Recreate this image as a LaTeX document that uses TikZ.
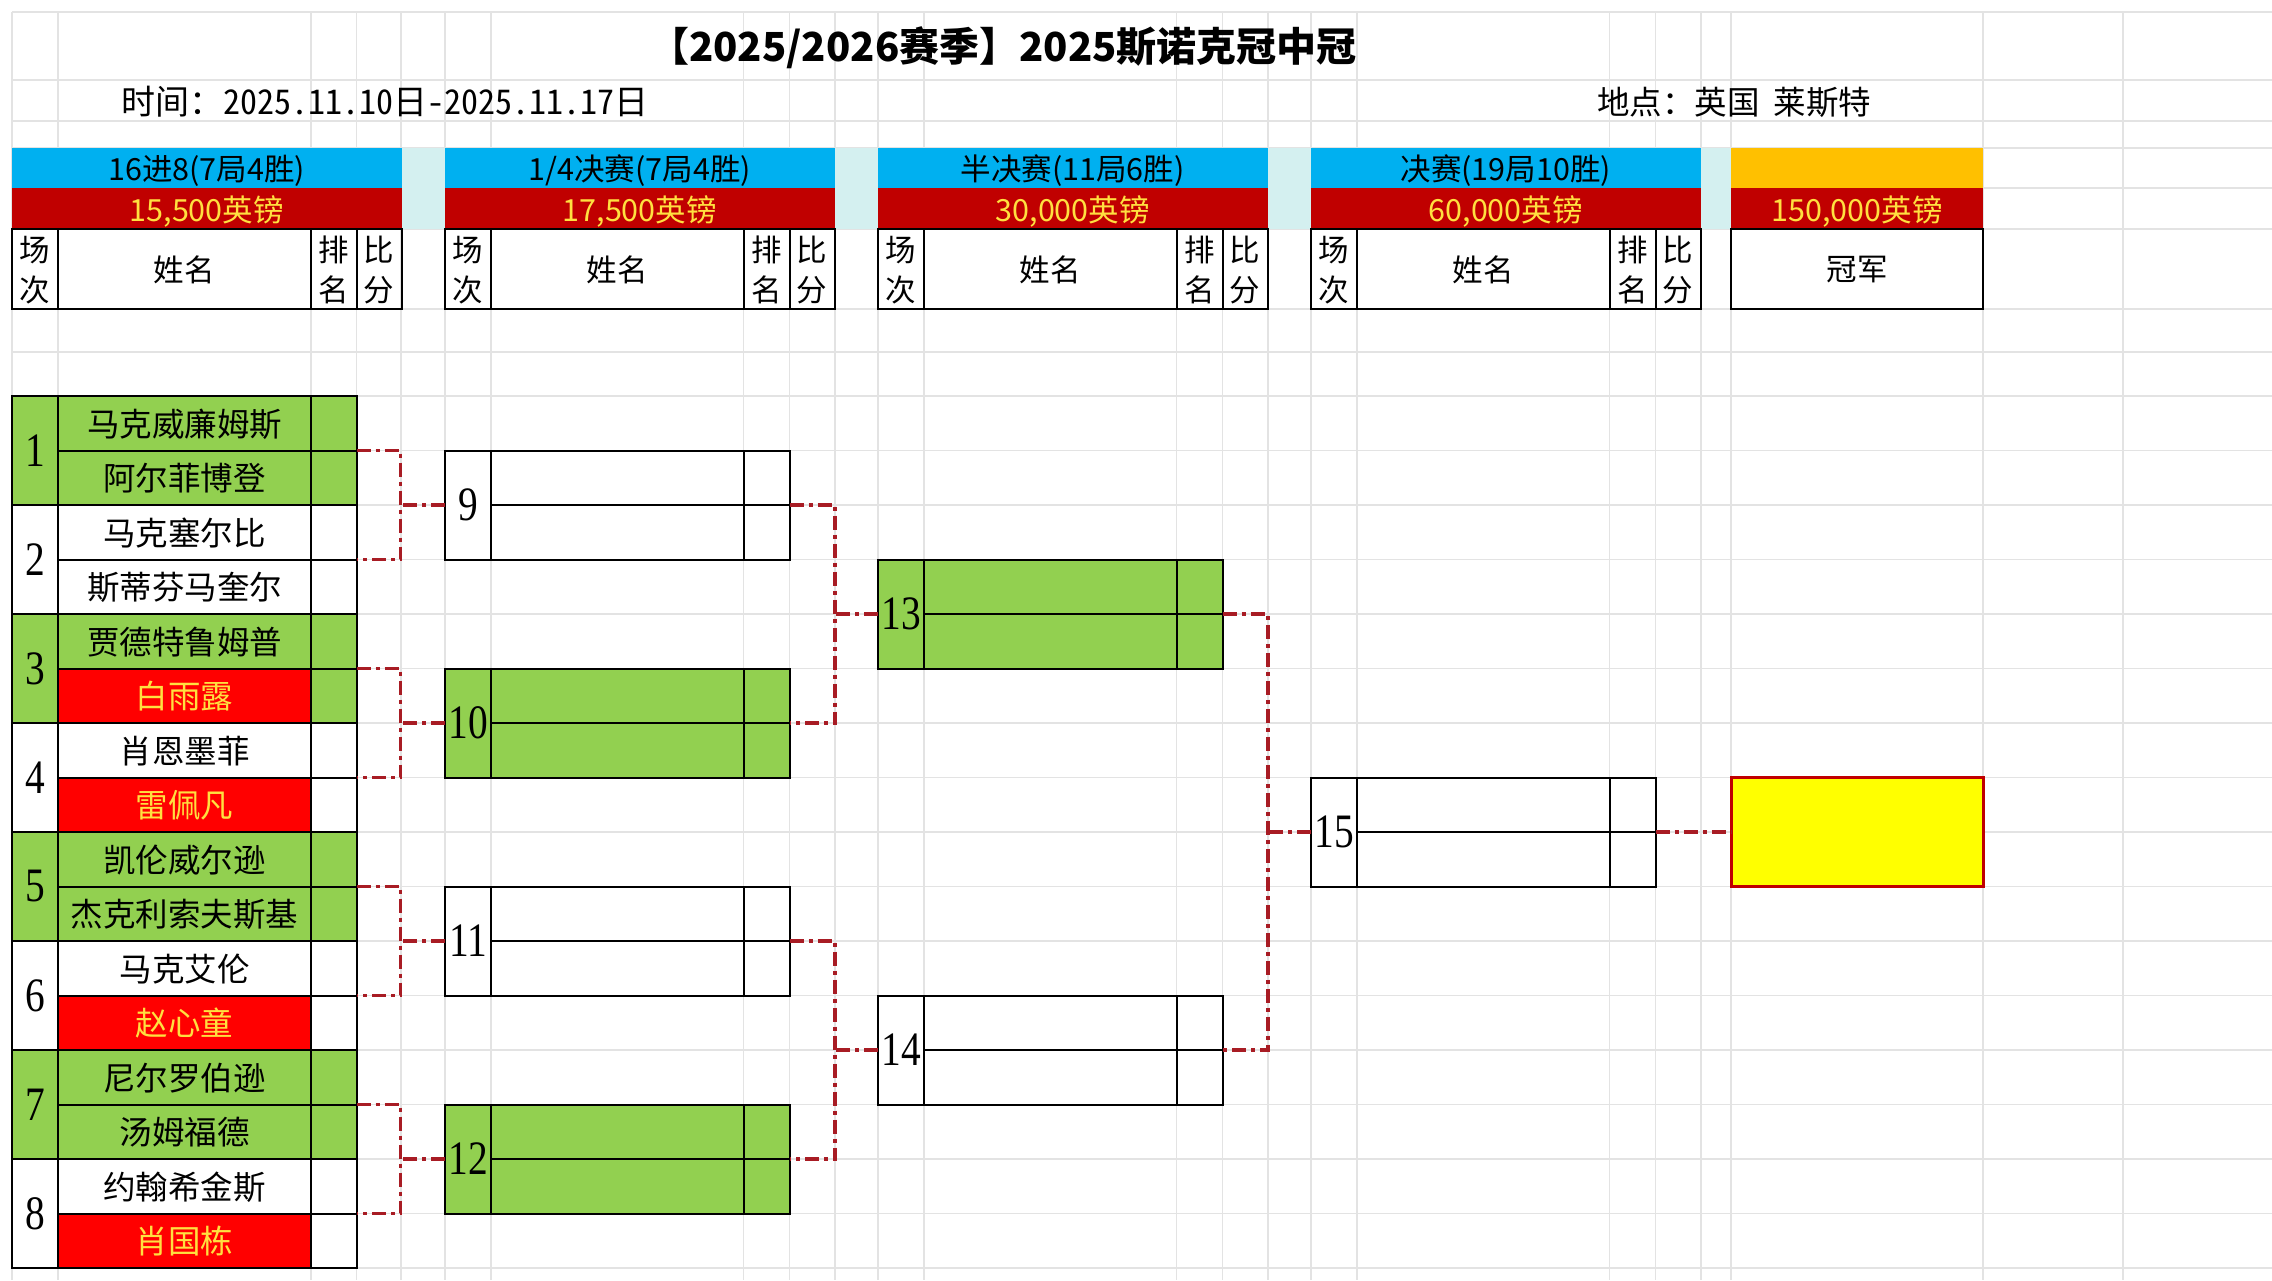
\documentclass[tikz,border=0pt]{standalone}
\usepackage{fontspec}
\setmainfont{Noto Sans CJK SC}
\newfontfamily\hwfont[RawFeature=+hwid]{Noto Sans CJK SC}
\newfontfamily\numfont[FakeStretch=0.82]{Liberation Serif}
\definecolor{xgreen}{HTML}{92D050}
\definecolor{hblue}{HTML}{00B0F0}
\definecolor{hred}{HTML}{C00000}
\definecolor{cellred}{HTML}{FF0000}
\definecolor{prizey}{HTML}{FFE040}
\definecolor{horange}{HTML}{FFC000}
\definecolor{gapcyan}{HTML}{D4F0F0}
\definecolor{gridgray}{HTML}{E3E3E3}
\definecolor{connred}{HTML}{A81C24}
\definecolor{champy}{HTML}{FFFF00}
\colorlet{rowbg0}{white}
\colorlet{rowbg1}{xgreen}

\newcommand\colhead[4]{%
  \node[hbar, fill=hblue] (hr#2) at (#1,148) {};
  \node[hd] (hrt#2) at (#1+194.75,171) {#3};
  \node[hbar, fill=hred, minimum height=41pt] (hp#2) at (#1,188) {};
  \node[hd, text=prizey] (hpt#2) at (#1+194.75,211) {#4};
  \node[hcell] (hc#2) at (#1,229) {};
  \draw[tline] (#1+46,229) -- (#1+46,309) (#1+298.5,229) -- (#1+298.5,309) (#1+344.5,229) -- (#1+344.5,309);
  \node[hd] (hca#2) at (#1+23,250) {场};
  \node[hd] (hcb#2) at (#1+23,290) {次};
  \node[hd] (hcc#2) at (#1+172,270) {姓名};
  \node[hd] (hcd#2) at (#1+321.5,250) {排};
  \node[hd] (hce#2) at (#1+321.5,290) {名};
  \node[hd] (hcf#2) at (#1+367,250) {比};
  \node[hd] (hcg#2) at (#1+367,290) {分};
}

\begin{document}
\begin{tikzpicture}[x=1pt,y=-1pt,
  tline/.style={line width=2pt, black},
  grid/.style={line width=1.5pt, gridgray},
  conn/.style={draw=connred, line width=3.2pt, dash pattern=on 14pt off 5pt on 4pt off 5pt},
  mbox/.style={rectangle, minimum width=344.5pt, minimum height=109pt, anchor=north west, inner sep=0pt, outer sep=0pt},
  hbar/.style={rectangle, minimum width=389.5pt, minimum height=40pt, anchor=north west, inner sep=0pt, outer sep=0pt},
  hcell/.style={rectangle, draw, line width=2pt, minimum width=389.5pt, minimum height=80pt, anchor=north west, inner sep=0pt, outer sep=0pt},
  nm/.style={font=\fontsize{32.5}{36}\selectfont, inner sep=0pt},
  num/.style={font=\numfont\fontsize{48}{52}\selectfont, inner sep=0pt},
  hd/.style={font=\fontsize{30.5}{34}\selectfont, inner sep=0pt}]

\useasboundingbox (0,0) rectangle (2272,1280);
\fill[white] (0,0) rectangle (2272,1280);

% spreadsheet grid
\foreach \x in {12,58,311,356.5,401,445,491,743.5,789.5,835,878,924,1176.5,1222.5,1268,1311,1357,1609.5,1655.5,1701,1731,1983,2123}
  \draw[grid] (\x,12) -- (\x,1280);
\foreach \y in {12,80,121,148,188,229,309,352}
  \draw[grid] (12,\y) -- (2272,\y);
\foreach \i in {0,...,16}
  \draw[grid] (12,396+54.5*\i) -- (2272,396+54.5*\i);

% cyan gaps
\fill[gapcyan] (401,148) rectangle (445,229);
\fill[gapcyan] (835,148) rectangle (878,229);
\fill[gapcyan] (1268,148) rectangle (1311,229);
\fill[gapcyan] (1701,148) rectangle (1731,229);

% titles
\node[font=\bfseries\fontsize{40}{44}\selectfont, inner sep=0pt] (title) at (1003,48) {【2025/2026赛季】2025斯诺克冠中冠};
\node[font=\hwfont\fontsize{34}{38}\selectfont, anchor=west, inner sep=0pt] (time) at (121,102) {时间：2025.11.10日-2025.11.17日};
\node[font=\fontsize{32.5}{36}\selectfont, anchor=west, inner sep=0pt] (place) at (1597,102) {地点：英国\hspace{14pt}莱斯特};

% column headers
\colhead{12}{a}{16进8(7局4胜)}{15,500英镑}
\colhead{445}{b}{1/4决赛(7局4胜)}{17,500英镑}
\colhead{878}{c}{半决赛(11局6胜)}{30,000英镑}
\colhead{1311}{d}{决赛(19局10胜)}{60,000英镑}

% champion header
\node[rectangle, fill=horange, minimum width=252pt, minimum height=40pt, anchor=north west, inner sep=0pt, outer sep=0pt] (hre) at (1731,148) {};
\node[rectangle, fill=hred, minimum width=252pt, minimum height=41pt, anchor=north west, inner sep=0pt, outer sep=0pt] (hpe) at (1731,188) {};
\node[hd, text=prizey] (hpte) at (1857,211) {150,000英镑};
\node[rectangle, draw, line width=2pt, minimum width=252pt, minimum height=80pt, anchor=north west, inner sep=0pt, outer sep=0pt] (hce) at (1731,229) {};
\node[hd] (hcce) at (1857,270) {冠军};

% round of 16
\foreach \k/\na/\nb/\g/\r in {1/马克威廉姆斯/阿尔菲博登/1/0, 2/马克塞尔比/斯蒂芬马奎尔/0/0, 3/贾德特鲁姆普/白雨露/1/1, 4/肖恩墨菲/雷佩凡/0/1, 5/凯伦威尔逊/杰克利索夫斯基/1/0, 6/马克艾伦/赵心童/0/1, 7/尼尔罗伯逊/汤姆福德/1/0, 8/约翰希金斯/肖国栋/0/1} {
  \pgfmathsetmacro\yt{396+(\k-1)*109}
  \pgfmathsetmacro\ym{\yt+54.5}
  \ifnum\r=1 \def\bc{cellred}\def\tc{prizey}\else \def\bc{rowbg\g}\def\tc{black}\fi
  \node[mbox, fill=rowbg\g] (m\k) at (12,\yt) {};
  \fill[\bc] (58,\ym) rectangle (311,\yt+109);
  \draw[tline] (m\k.north west) rectangle (m\k.south east);
  \draw[tline] (58,\yt) -- (58,\yt+109) (311,\yt) -- (311,\yt+109) (58,\ym) -- (356.5,\ym);
  \node[nm] (pa\k) at (184.5,\yt+28) {\na};
  \node[nm, text=\tc] (pb\k) at (184.5,\ym+28) {\nb};
  \node[num] (n\k) at (35,\ym) {\k};
}

% later rounds
\foreach \n/\x/\y/\g in {9/445/450.5/0, 10/445/668.5/1, 11/445/886.5/0, 12/445/1104.5/1, 13/878/559.5/1, 14/878/995.5/0, 15/1311/777.5/0} {
  \node[mbox, fill=rowbg\g] (b\n) at (\x,\y) {};
  \draw[tline] (b\n.north west) rectangle (b\n.south east);
  \draw[tline] (\x+46,\y) -- (\x+46,\y+109) (\x+298.5,\y) -- (\x+298.5,\y+109) (\x+46,\y+54.5) -- (\x+344.5,\y+54.5);
  \node[num] (bn\n) at (\x+23,\y+54.5) {\n};
}

% champion box
\node[rectangle, draw=hred, fill=champy, line width=3pt, minimum width=252pt, minimum height=109pt, anchor=north west, inner sep=0pt, outer sep=0pt] (champ) at (1731,777.5) {};

% connectors
\foreach \a/\b/\c in {1/2/9, 3/4/10, 5/6/11, 7/8/12} {
  \draw[conn] (m\a.east) -- ++(44,0) |- (m\b.east);
  \draw[conn] (b\c.west) -- ++(-44,0);
}
\draw[conn] (b9.east) -- ++(45.5,0) |- (b10.east);
\draw[conn] (b13.west) -- ++(-43,0);
\draw[conn] (b11.east) -- ++(45.5,0) |- (b12.east);
\draw[conn] (b14.west) -- ++(-43,0);
\draw[conn] (b13.east) -- ++(45.5,0) |- (b14.east);
\draw[conn] (b15.west) -- ++(-43,0);
\draw[conn] (b15.east) -- (champ.west);
\end{tikzpicture}
\end{document}
